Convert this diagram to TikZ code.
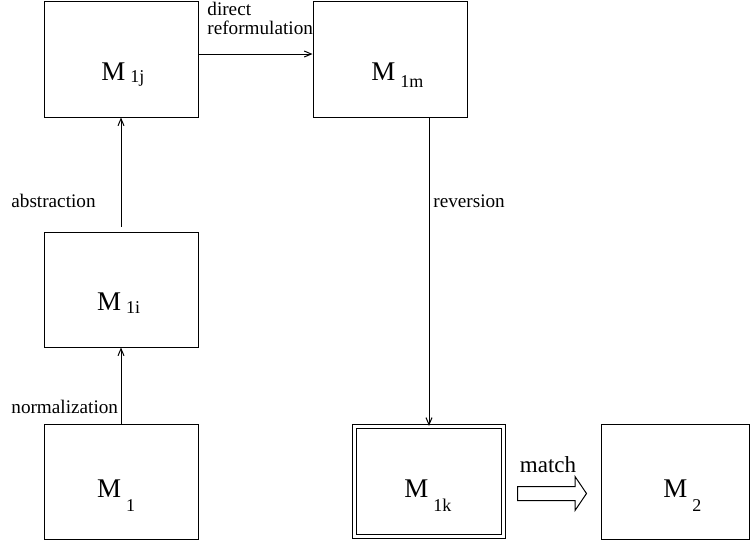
\documentclass[tikz,border=0pt]{standalone}
\usepackage{fontspec}
\setmainfont{Liberation Serif}
\usetikzlibrary{positioning}
\usetikzlibrary{arrows.meta}
\usetikzlibrary{shapes.arrows}
\usetikzlibrary{math}

% model name with a dropped index
\newcommand{\mlab}[2]{M\hspace{2.5pt}\raisebox{-#2}{\fontsize{9}{9}\selectfont #1}}

\tikzset{
  modbox/.style={draw, line width=0.5pt, minimum width=77pt, minimum height=58pt, inner sep=0pt},
  mtext/.style={anchor=base west, inner sep=0pt, font=\fontsize{13.5}{13.5}\selectfont},
  lbl/.style={anchor=base west, inner sep=0pt, font=\fontsize{9.6}{9.5}\selectfont},
  conn/.style={line width=0.5pt, -{Straight Barb[length=3.5pt,width=3pt]}},
}

\begin{document}
\begin{tikzpicture}[x=0.5pt,y=0.5pt]

  \useasboundingbox (0,0) rectangle (750,-541);

  % the models
  \node[modbox] (jbox) at (121,-59) {};
  \node[modbox] (mbox) at (390,-59) {};
  \node[modbox, minimum height=57.5pt] (ibox) at (121,-289.5) {};
  \node[modbox, minimum height=57.5pt] (onebox) at (121,-481.5) {};
  \node[modbox, double, double distance=1.65pt, minimum width=74.5pt, minimum height=55.15pt] (kbox) at (429,-481.5) {};
  \node[modbox, minimum width=74pt, minimum height=57.5pt] (twobox) at (675.5,-481.5) {};

  % names inside the boxes
  \node[mtext] (jlbl) at (101,-80) {\mlab{1j}{1.2pt}};
  \node[mtext] (mlbl) at (371,-80) {\mlab{1m}{3.7pt}};
  \node[mtext] (ilbl) at (96.7,-310) {\mlab{1i}{1.7pt}};
  \node[mtext] (onelbl) at (96.7,-497) {\mlab{1}{7pt}};
  \node[mtext] (klbl) at (404,-497) {\mlab{1k}{7pt}};
  \node[mtext] (twolbl) at (663,-497) {\mlab{2}{7pt}};

  % transformations
  \draw[conn] (onebox) -- (ibox);
  \draw[conn, shorten <=2.5pt] (ibox) -- (jbox);
  \draw[conn] ([yshift=2.5pt]jbox.east) -- ([yshift=2.5pt]mbox.west);
  \draw[conn] (mbox.south -| kbox.north) -- (kbox.north);

  \node[lbl] (normlbl) at (11,-413) {normalization};
  \node[lbl] (abslbl) at (11,-207) {abstraction};
  \node[lbl, align=left] (dirlbl) at (207,-34) {direct\\reformulation};
  \node[lbl] (revlbl) at (433,-207) {reversion};

  % match
  \node[single arrow, draw, line width=0.5pt, anchor=tail, minimum height=34.5pt,
        inner xsep=0pt, inner ysep=3.25pt, single arrow head extend=5pt,
        single arrow tip angle=112, single arrow head indent=0pt]
        (marr) at ([shift={(6.5pt,-6pt)}]kbox.east) {};
  \node[anchor=base, inner sep=0pt, font=\fontsize{11.5}{11.5}\selectfont] (matchlbl) at (548,-472) {match};

\end{tikzpicture}
\end{document}
